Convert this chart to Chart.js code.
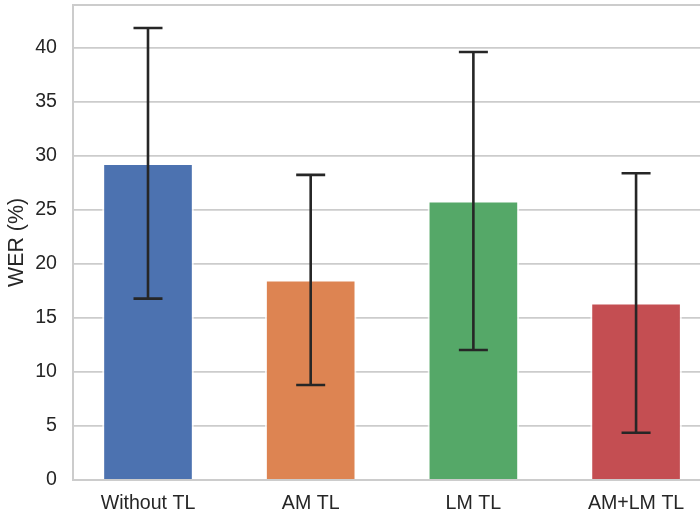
<!DOCTYPE html>
<html>
<head>
<meta charset="utf-8">
<script src="https://cdn.jsdelivr.net/npm/chart.js@4.4.1/dist/chart.umd.min.js"></script>
<style>
  html, body { margin: 0; padding: 0; background: #fff; }
  #wer { display: block; }
</style>
</head>
<body>
<canvas id="wer" width="700" height="518"></canvas>
<script>
// WER par configuration de transfer learning — barres + intervalles
const categories = ['Without TL', 'AM TL', 'LM TL', 'AM+LM TL'];
const wer = [29.33, 18.53, 25.84, 16.40];
const errLow = [16.79, 8.80, 12.04, 4.38];
const errHigh = [41.85, 28.25, 39.63, 28.40];
const yTicks = [0, 5, 10, 15, 20, 25, 30, 35, 40];
const colors = ['#4c72b0', '#dd8452', '#55a868', '#c44e52'];

const INK = '#262626', GRID = '#cccccc';
const FAMILY = "'Liberation Sans', Arial, sans-serif";
const TICK_FONT = { family: FAMILY, size: 19.6 };
const LABEL_FONT = { family: FAMILY, size: 21.4 };

// barres d'erreur dessinées via les échelles du graphe
const errorBars = {
  id: 'errorBars',
  afterDatasetsDraw(chart) {
    const { ctx, scales: { x, y } } = chart;
    ctx.save();
    ctx.strokeStyle = INK; ctx.lineWidth = 2.6; ctx.lineCap = 'butt';
    categories.forEach((_, i) => {
      const px = x.getPixelForValue(i);
      const lo = y.getPixelForValue(errLow[i]), hi = y.getPixelForValue(errHigh[i]);
      ctx.beginPath();
      ctx.moveTo(px, lo); ctx.lineTo(px, hi);
      ctx.moveTo(px - 14.5, lo); ctx.lineTo(px + 14.5, lo);
      ctx.moveTo(px - 14.5, hi); ctx.lineTo(px + 14.5, hi);
      ctx.stroke();
    });
    ctx.restore();
  },
};

// cadre haut (spine seaborn)
const topSpine = {
  id: 'topSpine',
  afterDraw(chart) {
    const { ctx, chartArea: a } = chart;
    ctx.save();
    ctx.strokeStyle = GRID; ctx.lineWidth = 2;
    ctx.beginPath(); ctx.moveTo(a.left - 1, a.top); ctx.lineTo(a.right, a.top); ctx.stroke();
    ctx.restore();
  },
};

new Chart(document.getElementById('wer').getContext('2d'), {
  type: 'bar',
  data: {
    datasets: [{
      data: wer.map((v, i) => ({ x: i, y: v })),
      backgroundColor: colors,
      borderColor: 'rgba(255,255,255,0.75)',
      borderWidth: 2,
      borderSkipped: 'start',
      barThickness: 91,
    }],
  },
  options: {
    responsive: false, animation: false, devicePixelRatio: 1,
    layout: { padding: { top: 5, right: 0, left: 0, bottom: 0 } },
    plugins: { legend: { display: false }, tooltip: { enabled: false } },
    scales: {
      x: {
        type: 'linear', min: -0.461, max: 3.393, offset: false, bounds: 'ticks',
        afterBuildTicks: (s) => { s.ticks = categories.map((_, i) => ({ value: i })); },
        afterFit: (s) => { s.height = 38; s.paddingLeft = 0; s.paddingRight = 0; },
        grid: { display: false, drawTicks: false },
        border: { display: true, color: GRID, width: 2 },
        ticks: { color: INK, font: TICK_FONT, padding: 12, maxRotation: 0, autoSkip: false,
          callback: (v) => categories[v] },
      },
      y: {
        min: 0, max: 43.98,
        afterBuildTicks: (s) => { s.ticks = yTicks.map((v) => ({ value: v })); },
        afterFit: (s) => { s.width = 73; s.paddingTop = 0; s.paddingBottom = 0; },
        grid: { color: GRID, lineWidth: 1.8, drawTicks: false },
        border: { display: true, color: GRID, width: 2 },
        ticks: { color: INK, font: TICK_FONT, padding: 16 },
        title: { display: true, text: 'WER (%)', color: INK, font: LABEL_FONT, padding: { top: 4, bottom: 0 } },
      },
    },
  },
  plugins: [errorBars, topSpine],
});
</script>
</body>
</html>
